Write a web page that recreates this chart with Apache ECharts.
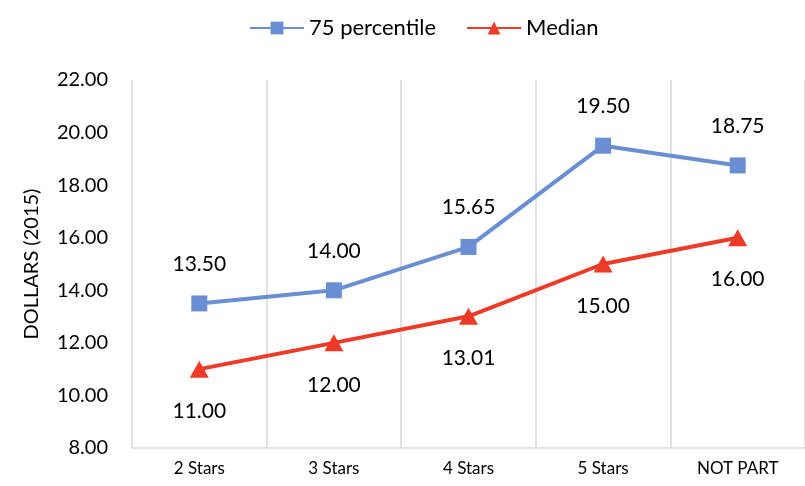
<!DOCTYPE html>
<html>
<head>
<meta charset="utf-8">
<script src="https://cdn.jsdelivr.net/npm/echarts@6/dist/echarts.min.js"></script>
<style>
  html, body { margin: 0; padding: 0; background: #fff; }
  #chart { width: 805px; height: 486px; }
</style>
</head>
<body>
<div id="chart"></div>
<script>
// Hourly pay by rating category
const categories = ['2 Stars', '3 Stars', '4 Stars', '5 Stars', 'NOT PART'];
const percentile75 = [13.50, 14.00, 15.65, 19.50, 18.75];
const median = [11.00, 12.00, 13.01, 15.00, 16.00];
const yTicks = { min: 8, max: 22, interval: 2 };

const FONT = 'Lato, "Liberation Sans", sans-serif';
const chart = echarts.init(document.getElementById('chart'), null, { renderer: 'canvas' });

chart.setOption({
  animation: false,
  textStyle: { fontFamily: FONT, color: '#000' },
  legend: {
    top: 12,
    left: 244,
    itemWidth: 54,
    itemHeight: 16,
    itemGap: 30,
    textStyle: { fontFamily: FONT, fontSize: 22, color: '#000' },
    data: ['75 percentile', 'Median']
  },
  grid: { left: 132, right: -11, top: 80, bottom: 38 },
  xAxis: {
    type: 'category',
    data: categories,
    boundaryGap: true,
    axisLine: { lineStyle: { color: '#d9d9d9', width: 1.5 } },
    axisTick: { show: false },
    axisLabel: { fontFamily: FONT, fontSize: 17, color: '#000', margin: 12 },
    splitLine: { show: true, lineStyle: { color: '#d9d9d9', width: 1.5 } }
  },
  yAxis: {
    type: 'value',
    min: yTicks.min,
    max: yTicks.max,
    interval: yTicks.interval,
    name: 'DOLLARS (2015)',
    nameLocation: 'middle',
    nameRotate: 90,
    nameGap: 90,
    nameTextStyle: { fontFamily: FONT, fontSize: 20, color: '#000' },
    axisLine: { show: false },
    axisTick: { show: false },
    splitLine: { show: false },
    axisLabel: {
      fontFamily: FONT, fontSize: 20, color: '#000', margin: 24,
      formatter: v => v.toFixed(2)
    }
  },
  series: [
    {
      name: '75 percentile',
      type: 'line',
      data: percentile75,
      symbol: 'rect',
      symbolSize: 16,
      lineStyle: { color: '#6A8ED3', width: 4 },
      itemStyle: { color: '#6A8ED3' },
      label: {
        show: true, position: 'top', distance: 21,
        fontFamily: FONT, fontSize: 21, color: '#000',
        formatter: p => p.value.toFixed(2)
      }
    },
    {
      name: 'Median',
      type: 'line',
      data: median,
      symbol: 'triangle',
      symbolSize: [19, 17],
      lineStyle: { color: '#EE3A26', width: 4 },
      itemStyle: { color: '#EE3A26' },
      label: {
        show: true, position: 'bottom', distance: 23,
        fontFamily: FONT, fontSize: 21, color: '#000',
        formatter: p => p.value.toFixed(2)
      }
    }
  ]
});
</script>
</body>
</html>
